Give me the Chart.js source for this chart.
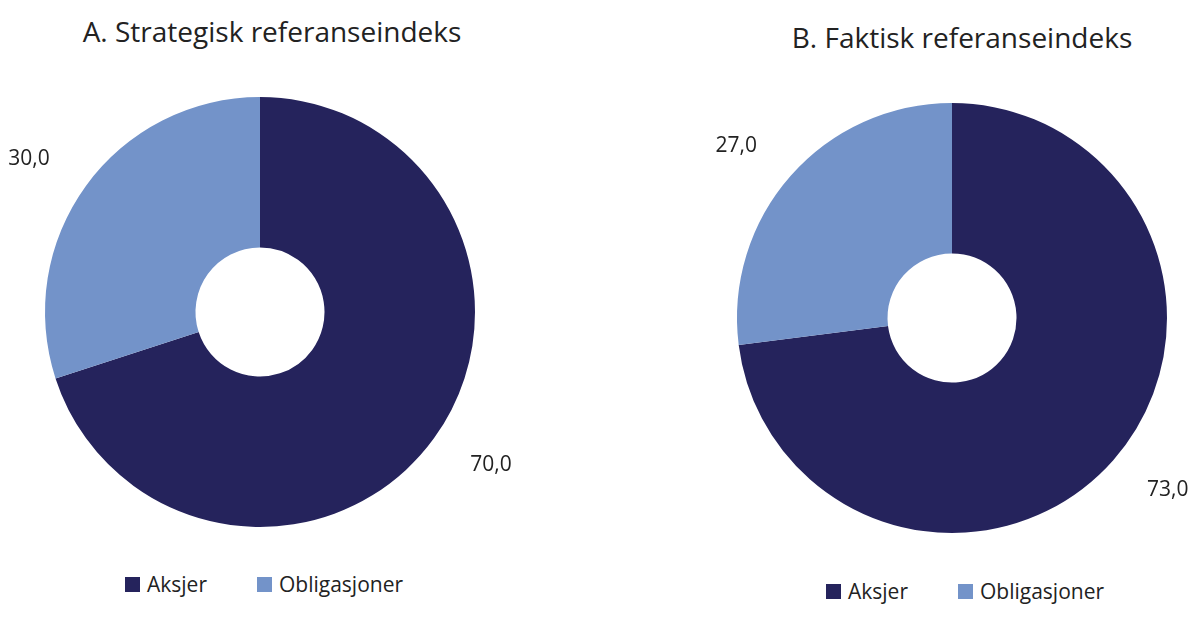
<!DOCTYPE html>
<html><head><meta charset="utf-8">
<script src="https://cdn.jsdelivr.net/npm/chart.js@4"></script>
<style>
body{margin:0;width:1200px;height:622px;background:#fff;font-family:"Open Sans",sans-serif;color:#222;position:relative;overflow:hidden}
.t{position:absolute;font-size:28px;white-space:nowrap;transform:translateX(-50%)}
.c{position:absolute;top:60px;width:600px;height:500px}
.lg{position:absolute;font-size:21px;display:flex;align-items:center;white-space:nowrap}
.sq{display:inline-block;width:15px;height:15px;margin-right:7px}
</style></head><body>
<div class="t" style="left:272px;top:12px">A. Strategisk referanseindeks</div>
<div class="t" style="left:962px;top:18px">B. Faktisk referanseindeks</div>
<div class="c" style="left:0"><canvas id="a"></canvas></div>
<div class="c" style="left:600px"><canvas id="b"></canvas></div>
<div class="lg" style="left:125px;top:570px"><span class="sq" style="background:#25235c"></span>Aksjer<span class="sq" style="background:#7393c9;margin-left:50px"></span>Obligasjoner</div>
<div class="lg" style="left:826px;top:577px"><span class="sq" style="background:#25235c"></span>Aksjer<span class="sq" style="background:#7393c9;margin-left:50px"></span>Obligasjoner</div>
<script>
const categories=["Aksjer","Obligasjoner"];
const valuesA=[70.0,30.0];
const valuesB=[73.0,27.0];
const colors=["#25235c","#7393c9"];
const lbl={id:"lbl",afterDatasetsDraw(ch){const ctx=ch.ctx;const meta=ch.getDatasetMeta(0);ctx.save();ctx.font='21px "Open Sans"';ctx.fillStyle="#222";ctx.textBaseline="middle";
meta.data.forEach((el,i)=>{const a=(el.startAngle+el.endAngle)/2;const r=el.outerRadius+45;const x=el.x+Math.cos(a)*r,y=el.y+Math.sin(a)*r;ctx.textAlign=Math.cos(a)<0?"right":"left";
ctx.fillText(ch.data.datasets[0].data[i].toFixed(1).replace(".",","),x,y);});ctx.restore();}};
function mk(id,vals,pad){new Chart(document.getElementById(id),{type:"doughnut",data:{labels:categories,datasets:[{data:vals,backgroundColor:colors,borderWidth:0}]},
options:{responsive:true,maintainAspectRatio:false,animation:false,cutout:"30%",layout:{padding:pad},events:[],plugins:{legend:{display:false},tooltip:{enabled:false}}},plugins:[lbl]});}
mk("a",valuesA,{left:45,right:125,top:37,bottom:33});
mk("b",valuesB,{left:137,right:33,top:43,bottom:27});
</script></body></html>
